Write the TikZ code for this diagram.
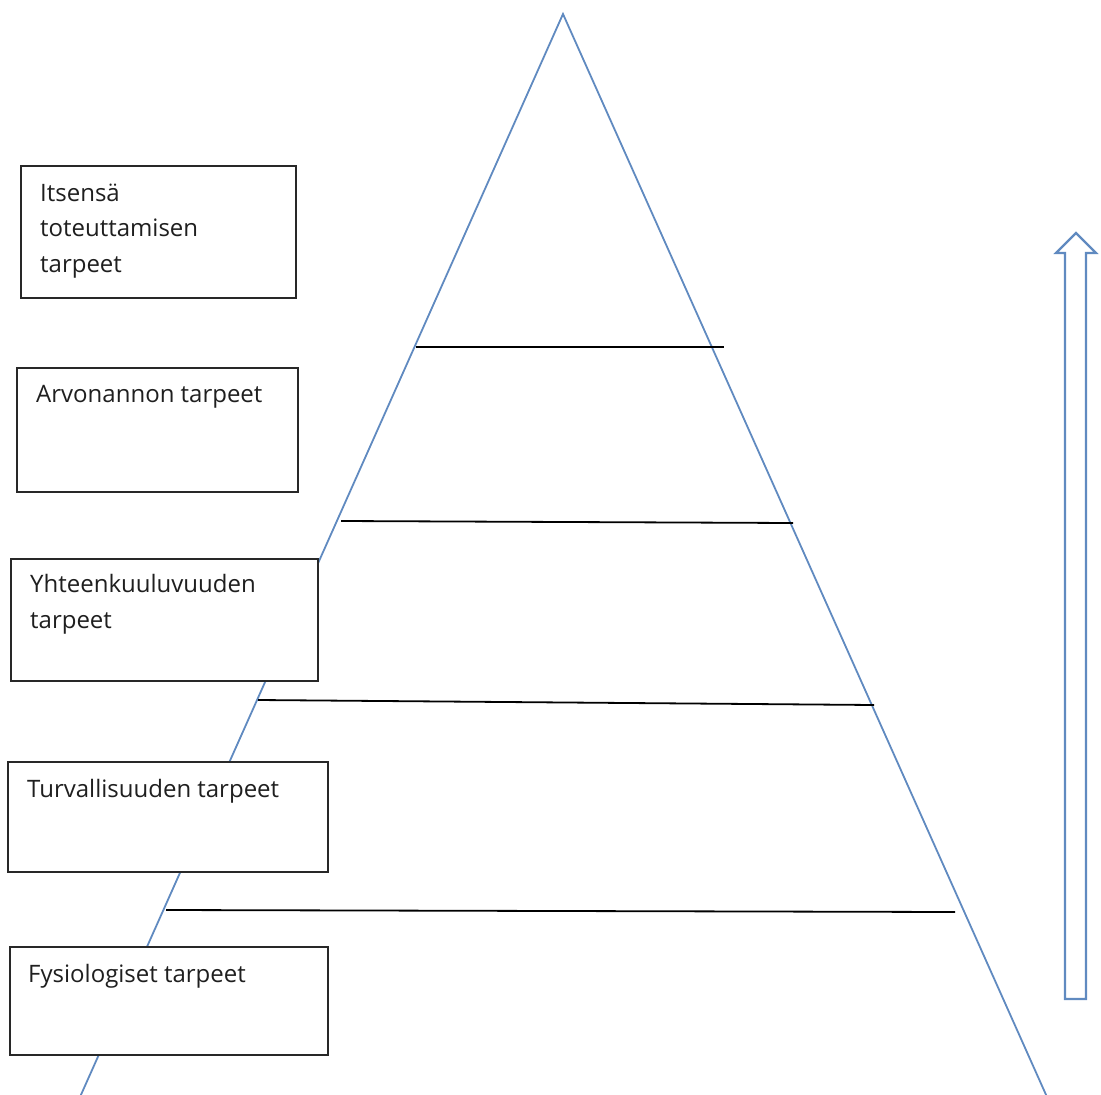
\documentclass[tikz,border=0pt]{standalone}
\usepackage{fontspec}
\setmainfont{Open Sans}
\definecolor{pyrblue}{RGB}{96,138,192}
\definecolor{boxline}{RGB}{40,40,40}
\begin{document}
\begin{tikzpicture}[x=1pt,y=-1pt,
  pyr/.style={draw=pyrblue,line width=1.8pt},
  level/.style={draw=black,line width=1.8pt},
  needbox/.style={draw=boxline,fill=white,line width=1.8pt,rectangle,inner sep=0pt},
  needtext/.style={anchor=base west,inner sep=0pt,align=left,font=\fontsize{24}{35.5}\selectfont,text=black!88},
  uparrow/.style={draw=pyrblue,fill=white,line width=2.2pt,line join=miter}]
\useasboundingbox (0,0) rectangle (1101,1095);
% pyramid
\coordinate (apex) at (563,14);
\coordinate (bl) at (80,1097);
\coordinate (br) at (1047,1097);
\draw[pyr] (bl) -- (apex) -- (br);
% level lines
\coordinate (l1a) at (416,347); \coordinate (l1b) at (724,347);
\coordinate (l2a) at (341,521); \coordinate (l2b) at (793,523);
\coordinate (l3a) at (258,700); \coordinate (l3b) at (874,705);
\coordinate (l4a) at (166,910); \coordinate (l4b) at (955,912);
\draw[level] (l1a) -- (l1b);
\draw[level] (l2a) -- (l2b);
\draw[level] (l3a) -- (l3b);
\draw[level] (l4a) -- (l4b);
% boxes
\path[needbox] (21,166) rectangle (296,298);
\path[needbox] (17,368) rectangle (298,492);
\path[needbox] (11,559) rectangle (318,681);
\path[needbox] (8,762) rectangle (328,872);
\path[needbox] (10,947) rectangle (328,1055);
% multi-line nodes: base anchor sits on the last line
\node[needtext] (t1) at (40,272) {Itsensä\\toteuttamisen\\tarpeet};
\node[needtext] (t2) at (36,402) {Arvonannon tarpeet};
\node[needtext] (t3) at (30,628) {Yhteenkuuluvuuden\\tarpeet};
\node[needtext] (t4) at (27,797) {Turvallisuuden tarpeet};
\node[needtext] (t5) at (28,982) {Fysiologiset tarpeet};
% arrow
\draw[uparrow] (1065,999) -- (1065,253) -- (1056,253) -- (1076,233) -- (1096,253) -- (1086,253) -- (1086,999) -- cycle;
\end{tikzpicture}
\end{document}
